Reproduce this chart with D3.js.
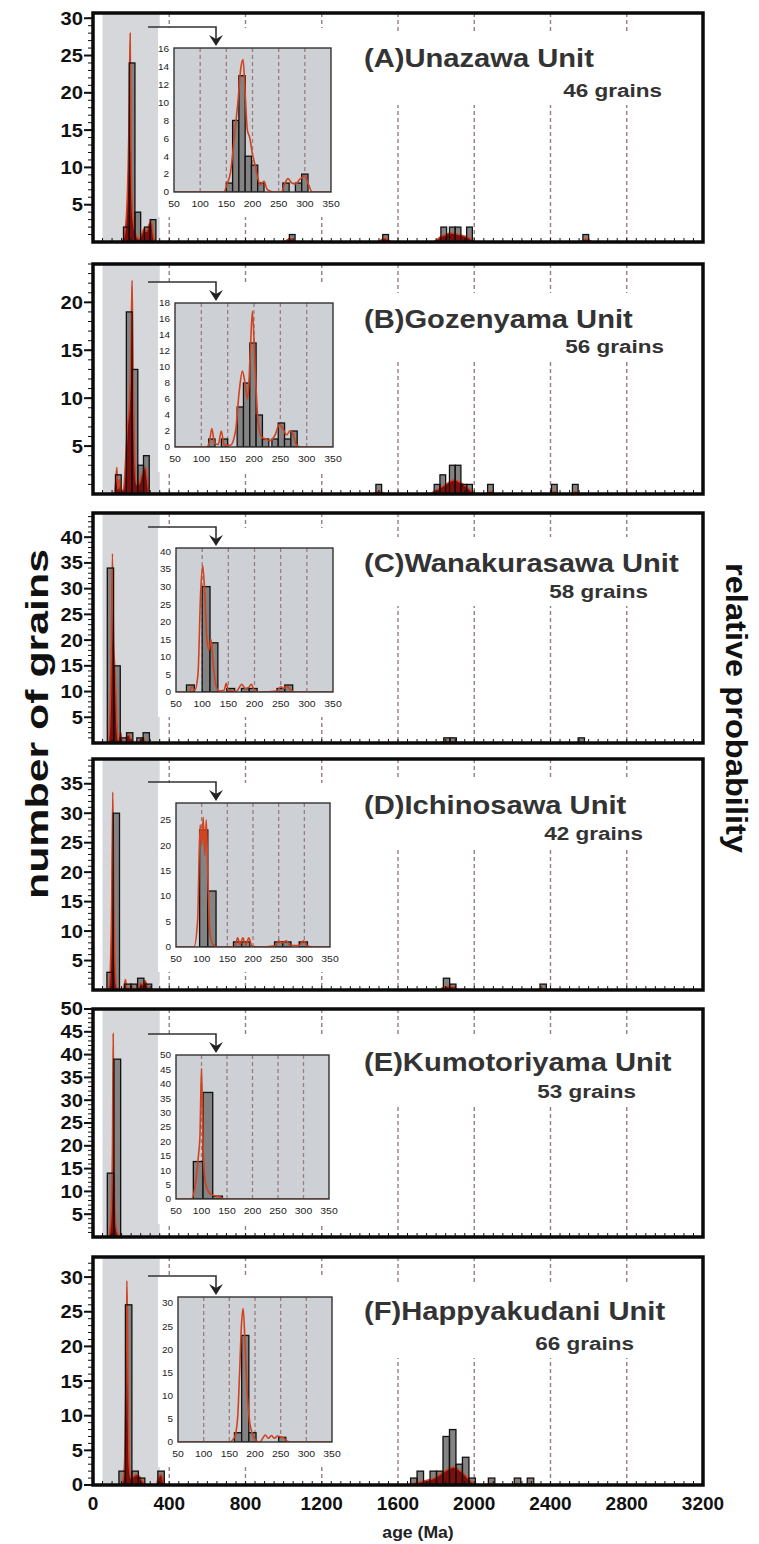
<!DOCTYPE html>
<html><head><meta charset="utf-8">
<script src="https://cdn.jsdelivr.net/npm/d3@7"></script>
<style>
body{margin:0;background:#fff}
svg{display:block}
text{font-family:"Liberation Sans",Arial,Helvetica,sans-serif}
</style></head>
<body><svg id="c" width="759" height="1544"></svg>
<script>
// ---------------- DATA ----------------
const titles = ["(A)Unazawa Unit","(B)Gozenyama Unit","(C)Wanakurasawa Unit","(D)Ichinosawa Unit","(E)Kumotoriyama Unit","(F)Happyakudani Unit"];
const grainLabels = ["46 grains","56 grains","58 grains","42 grains","53 grains","66 grains"];
const xTicks = [0,400,800,1200,1600,2000,2400,2800,3200];
const insetXTicks = [50,100,150,200,250,300,350];
const xAxisTitle = "age (Ma)";
const yTitleLeft = "number of grains";
const yTitleRight = "relative probability";

// main histogram bars: [bin start age (Ma), number of grains]
const mainBinWidth = [30,30,33,33,35,34];
const mainBarsA = [[160,2],[190,24],[220,4],[270,2],[300,3],[1030,1],[1520,1],[1825,2],[1870,2],[1900,2],[1960,2],[2570,1]];
const mainBarsB = [[118,2],[175,19],[205,13],[235,3],[265,4],[1484,1],[1790,1],[1820,2],[1870,3],[1900,3],[1930,1],[1960,1],[2070,1],[2405,1],[2515,1]];
const mainBarsC = [[75,34],[110,15],[143,1],[176,2],[230,1],[263,2],[1840,1],[1873,1],[2545,1]];
const mainBarsD = [[73,3],[106,30],[165,1],[198,1],[234,2],[275,1],[1838,2],[1871,1],[2345,1]];
const mainBarsE = [[75,14],[110,39]];
const mainBarsF = [[136,2],[170,26],[204,2],[238,1],[340,2],[1666,1],[1700,2],[1768,2],[1802,2],[1836,7],[1870,8],[1904,3],[1938,4],[1972,1],[2074,1],[2210,1],[2278,1]];

// main probability density curves: [age (Ma), value in count units]
const pdpMainA = [[100,0],[150,0],[165,1],[178,5],[188,15],[195,28],[200,12],[207,4],[215,2],[225,1],[240,0.4],[255,1],[268,1.8],[280,1.4],[295,2.4],[306,2.8],[318,0.6],[330,0],[1000,0],[1035,0.5],[1070,0],[1490,0],[1530,0.5],[1570,0],[1780,0],[1830,0.8],[1880,1.2],[1920,1],[1970,0.6],[2010,0],[2550,0],[2585,0.4],[2620,0]];
const pdpMainB = [[80,0],[110,0],[118,1],[125,2.8],[131,0.5],[138,1.5],[145,0.3],[160,0.5],[172,4],[180,7],[190,9],[198,14],[205,22.3],[211,12],[218,4],[228,1],[240,1],[255,2],[265,2.5],[275,2.8],[285,1.5],[295,0],[1460,0],[1500,0.3],[1540,0],[1760,0],[1800,0.4],[1850,1],[1895,1.5],[1935,1.1],[1975,0.5],[2010,0],[2060,0],[2085,0.3],[2110,0],[2395,0],[2420,0.25],[2445,0],[2505,0],[2530,0.25],[2555,0]];
const pdpMainC = [[50,0],[80,0],[88,4],[96,18],[102,36.8],[108,20],[114,15],[120,10],[126,3],[132,0.5],[140,1],[146,2],[152,0.3],[170,0.3],[178,1.5],[188,1.6],[196,1],[205,0.2],[240,0],[250,0.8],[260,1],[268,0.8],[278,0],[1810,0],[1845,0.3],[1875,0.3],[1905,0],[2530,0],[2550,0.2],[2570,0]];
const pdpMainD = [[50,0],[80,0],[90,3],[98,15],[104,33.6],[110,15],[117,3],[125,0.3],[160,0],[170,1.8],[178,0.3],[195,0.3],[202,1],[210,0],[238,0.3],[250,1.2],[262,0.9],[272,1.6],[282,1],[292,0.3],[300,0],[1810,0],[1850,0.6],[1885,0.6],[1920,0],[2330,0],[2355,0.3],[2380,0]];
const pdpMainE = [[50,0],[80,0],[90,2],[97,8],[102,20],[106,44.6],[110,20],[115,6],[122,2],[132,0.5],[145,0]];
const pdpMainF = [[100,0],[140,0],[155,0.5],[165,3],[172,14],[178,29.5],[184,14],[190,3],[198,1],[212,1.2],[228,1.5],[245,1.2],[262,0.5],[280,0],[330,0],[345,1.2],[358,1.5],[372,0.3],[390,0],[1640,0],[1690,0.3],[1740,0.6],[1790,1],[1830,1.7],[1870,2.4],[1890,2.6],[1920,2.2],[1950,1.5],[1980,0.6],[2010,0.1],[2040,0],[2065,0],[2085,0.25],[2110,0],[2195,0],[2220,0.25],[2245,0],[2265,0],[2290,0.25],[2315,0]];

// inset (50-350 Ma) histogram bars and curves
const insetBinWidth = [12,12,15,16,19,14];
const insetBarsA = [[150,1],[162,8],[174,13],[186,4],[198,3],[210,1],[258,1],[282,1],[294,2]];
const insetBarsB = [[114,1],[138,1],[168,5],[180,8],[192,13],[204,4],[216,1],[234,1],[246,3],[258,1],[270,2]];
const insetBarsC = [[70,2],[100,30],[115,14],[147,1],[175,1],[190,1],[243,1],[258,2]];
const insetBarsD = [[96,23],[112,11],[162,1],[178,1],[242,1],[258,1],[290,1]];
const insetBarsE = [[84,13],[103,37],[122,1]];
const insetBarsF = [[160,2],[174,23],[188,2],[246,1]];

const pdpInsetA = [[50,0],[145,0],[152,1],[158,2.2],[165,6],[172,10],[178,14],[182,14.8],[186,11],[190,7],[195,6],[200,4.2],[205,3],[210,1.6],[215,0.8],[222,1.2],[228,0.3],[240,0],[255,0],[262,1],[268,1.5],[275,1],[282,0.9],[290,1.4],[300,1.8],[306,1],[314,0],[350,0]];
const pdpInsetB = [[50,0],[110,0],[115,0.5],[120,2.3],[125,0.5],[132,0.3],[138,2],[143,0.3],[155,0.2],[165,2],[172,7],[178,9.5],[183,8],[188,6],[193,12],[197,17],[202,10],[208,3],[215,1.2],[222,1],[230,0.8],[240,1.5],[248,2.8],[255,2.3],[262,1.5],[268,2],[273,1.8],[280,0.3],[290,0],[350,0]];
const pdpInsetC = [[50,0],[75,0],[80,1.5],[86,0.5],[92,5],[97,28],[101,36],[105,28],[109,15],[113,12],[117,15],[121,8],[126,2],[132,0.3],[142,0.5],[146,2.5],[150,0.5],[165,0.2],[176,2.2],[182,1],[188,1.2],[194,2.2],[200,0.3],[210,0],[243,0.3],[250,1.5],[256,1],[262,1.6],[268,0.8],[278,0],[350,0]];
const pdpInsetD = [[50,0],[85,0],[92,5],[97,24],[100,20],[103,25.5],[106,18],[109,25],[112,14],[116,3],[122,0.5],[130,0],[165,0],[170,1.8],[175,0.5],[180,1.8],[186,0.4],[192,1.8],[198,0.2],[210,0],[245,0.3],[250,1.2],[256,0.8],[265,1.2],[272,0.3],[290,0.3],[298,1.2],[305,0.3],[315,0],[350,0]];
const pdpInsetE = [[50,0],[80,0],[86,3],[90,8],[94,15],[97,22],[100,45.4],[103,20],[106,8],[110,4],[116,2],[125,1.2],[135,0.8],[142,0.2],[150,0],[350,0]];
const pdpInsetF = [[50,0],[150,0],[160,1],[166,5],[170,15],[174,26],[177,28.8],[181,20],[185,10],[190,4],[196,1.5],[202,0.3],[210,0],[215,0.8],[220,1.5],[226,0.8],[232,1.4],[238,0.8],[244,1.3],[250,1.1],[256,0.9],[262,0.2],[270,0],[350,0]];

// axis extents
const yMax = [30.7,24,44.7,39.2,50,32.9];
const yTickTop = [30,20,40,35,50,30];
const insetYMax = [16.1,18,41,28.3,50,31.3];
const insetYStep = [2,2,5,5,5,5];

const mainBars = [mainBarsA,mainBarsB,mainBarsC,mainBarsD,mainBarsE,mainBarsF];
const mainPdp = [pdpMainA,pdpMainB,pdpMainC,pdpMainD,pdpMainE,pdpMainF];
const insetBars = [insetBarsA,insetBarsB,insetBarsC,insetBarsD,insetBarsE,insetBarsF];
const insetPdp = [pdpInsetA,pdpInsetB,pdpInsetC,pdpInsetD,pdpInsetE,pdpInsetF];

// ---------------- LAYOUT ----------------
const panelTop = [13,264,513,759,1009,1257];
const panelBottom = [242,494,743,990,1237,1485];
const insetLeft = [174,175,176,176,176,178];
const insetRight = [331,333,333,330,329,332];
const insetTop = [48,303,548,803,1055,1297];
const insetBottom = [192,447,692,947,1199,1442];
const titleY = [57,318,562,804,1061,1310];
const grainsY = [91,347,592,834,1092,1344];
const grainsRight = [662,664,648,643,636,634];

const C = {
  band:"#d5d7da", insetBg:"#cdd0d4", grid:"#9c7c7c", bar:"#838383",
  pdpFill:"#7e0d0d", pdpLine:"#d3421f", text:"#333"
};

const svg = d3.select("#c");
const x = d3.scaleLinear().domain([0,3200]).range([93,703]);

for (let i=0;i<6;i++){
  const top = panelTop[i], bot = panelBottom[i];
  const y = d3.scaleLinear().domain([0,yMax[i]]).range([bot,top]);
  const g = svg.append("g");
  const bw = mainBinWidth[i];

  // gray band 50-350 Ma
  g.append("rect").attr("x",x(50)).attr("y",top).attr("width",x(350)-x(50)).attr("height",bot-top).attr("fill",C.band);

  // dashed grid lines
  g.selectAll("line.grid").data(xTicks.filter(t=>t>0&&t<3200)).join("line")
    .attr("x1",d=>x(d)).attr("x2",d=>x(d)).attr("y1",top).attr("y2",bot)
    .attr("stroke",C.grid).attr("stroke-width",1.4).attr("stroke-dasharray","4,3");

  // white boxes behind inset and title
  g.append("rect").attr("x",158).attr("y",insetTop[i]-20).attr("width",350-158).attr("height",insetBottom[i]-insetTop[i]+45).attr("fill","#fff");
  g.append("rect").attr("x",345).attr("y",titleY[i]-25).attr("width",700-345).attr("height",grainsY[i]-titleY[i]+39).attr("fill","#fff");

  // bar fills
  const bars = mainBars[i];
  g.selectAll("rect.bf").data(bars).join("rect")
    .attr("x",d=>x(d[0])).attr("width",d=>x(d[0]+bw)-x(d[0]))
    .attr("y",d=>y(d[1])).attr("height",d=>y(0)-y(d[1]))
    .attr("fill",C.bar);

  // PDP filled
  const area = d3.area().x(d=>x(d[0])).y0(y(0)).y1(d=>y(d[1])).curve(d3.curveMonotoneX);
  const line = d3.line().x(d=>x(d[0])).y(d=>y(d[1])).curve(d3.curveMonotoneX);
  g.append("path").datum(mainPdp[i]).attr("d",area).attr("fill",C.pdpFill);
  g.append("path").datum(mainPdp[i]).attr("d",line).attr("fill","none").attr("stroke",C.pdpLine).attr("stroke-width",1.5);

  // bar outlines
  g.selectAll("rect.bo").data(bars).join("rect")
    .attr("x",d=>x(d[0])).attr("width",d=>x(d[0]+bw)-x(d[0]))
    .attr("y",d=>y(d[1])).attr("height",d=>y(0)-y(d[1]))
    .attr("fill","none").attr("stroke","#111").attr("stroke-width",1.3);

  // bottom minor ticks (inside)
  g.selectAll("line.bt").data(d3.range(50,3200,50)).join("line")
    .attr("x1",d=>x(d)).attr("x2",d=>x(d)).attr("y1",bot).attr("y2",bot-4)
    .attr("stroke","#111").attr("stroke-width",1);

  // left axis ticks
  const minor = d3.range(1,Math.floor(yMax[i])+1);
  g.selectAll("line.mt").data(minor).join("line")
    .attr("x1",88).attr("x2",93).attr("y1",d=>y(d)).attr("y2",d=>y(d))
    .attr("stroke","#111").attr("stroke-width",1);
  const major = d3.range(i===5?0:5, yTickTop[i]+1, 5);
  g.selectAll("line.Mt").data(major).join("line")
    .attr("x1",84).attr("x2",93).attr("y1",d=>y(d)).attr("y2",d=>y(d))
    .attr("stroke","#111").attr("stroke-width",2);
  g.selectAll("text.yl").data(major).join("text")
    .attr("transform",d=>`translate(83,${y(d)}) scale(1.12,1)`)
    .attr("text-anchor","end").attr("dy","0.36em")
    .attr("font-size",18).attr("font-weight","bold").attr("fill","#111")
    .text(d=>d);

  // frame
  g.append("rect").attr("x",x(0)).attr("y",top).attr("width",x(3200)-x(0)).attr("height",bot-top)
    .attr("fill","none").attr("stroke","#0a0a0a").attr("stroke-width",3.5);

  // arrow
  const ay = insetTop[i]-21;
  g.append("path").attr("d",`M148,${ay}H216V${insetTop[i]-8}`).attr("fill","none").attr("stroke","#333").attr("stroke-width",1.6);
  g.append("path").attr("d",`M209,${insetTop[i]-13}L216,${insetTop[i]-9}L223,${insetTop[i]-13}L216,${insetTop[i]-2}Z`).attr("fill","#222");

  // ---- inset ----
  const xi = d3.scaleLinear().domain([50,350]).range([insetLeft[i],insetRight[i]]);
  const yi = d3.scaleLinear().domain([0,insetYMax[i]]).range([insetBottom[i],insetTop[i]]);
  const ib = insetBinWidth[i];
  const gi = svg.append("g");
  const clipId = "clip"+i;
  gi.append("clipPath").attr("id",clipId).append("rect")
    .attr("x",insetLeft[i]).attr("y",insetTop[i]-1).attr("width",insetRight[i]-insetLeft[i]).attr("height",insetBottom[i]-insetTop[i]+1);
  gi.append("rect").attr("x",insetLeft[i]).attr("y",insetTop[i]).attr("width",insetRight[i]-insetLeft[i]).attr("height",insetBottom[i]-insetTop[i]).attr("fill",C.insetBg);
  gi.selectAll("line.ig").data([100,150,200,250,300]).join("line")
    .attr("x1",d=>xi(d)).attr("x2",d=>xi(d)).attr("y1",insetTop[i]).attr("y2",insetBottom[i])
    .attr("stroke",C.grid).attr("stroke-width",1.3).attr("stroke-dasharray","4,3");
  const gc = gi.append("g").attr("clip-path",`url(#${clipId})`);
  gc.selectAll("rect.ib").data(insetBars[i]).join("rect")
    .attr("x",d=>xi(d[0])).attr("width",d=>xi(d[0]+ib)-xi(d[0]))
    .attr("y",d=>yi(d[1])).attr("height",d=>yi(0)-yi(d[1]))
    .attr("fill",C.bar).attr("stroke","#111").attr("stroke-width",1.3);
  const iline = d3.line().x(d=>xi(d[0])).y(d=>yi(d[1])).curve(d3.curveMonotoneX);
  gc.append("path").datum(insetPdp[i]).attr("d",iline).attr("fill","none").attr("stroke",C.pdpLine).attr("stroke-width",1.6);
  gi.append("rect").attr("x",insetLeft[i]).attr("y",insetTop[i]).attr("width",insetRight[i]-insetLeft[i]).attr("height",insetBottom[i]-insetTop[i])
    .attr("fill","none").attr("stroke","#333").attr("stroke-width",1.4);
  const iyt = d3.range(0, insetYMax[i]+0.001, insetYStep[i]).filter(v=>v<=insetYMax[i]);
  gi.selectAll("text.iy").data(iyt).join("text")
    .attr("transform",d=>`translate(${insetLeft[i]-5},${yi(d)}) scale(1.05,1)`)
    .attr("text-anchor","end").attr("dy","0.35em").attr("font-size",9.5).attr("fill","#222")
    .text(d=>d);
  gi.selectAll("text.ix").data(insetXTicks).join("text")
    .attr("transform",d=>`translate(${xi(d)},${insetBottom[i]+12}) scale(1.1,1)`)
    .attr("text-anchor","middle").attr("dy","0.35em").attr("font-size",9.5).attr("fill","#222")
    .text(d=>d);

  // titles
  svg.append("text").attr("transform",`translate(364,${titleY[i]}) scale(1.1,1)`)
    .attr("dy","0.36em").attr("font-size",26.5).attr("font-weight","bold").attr("fill",C.text)
    .text(titles[i]);
  svg.append("text").attr("transform",`translate(${grainsRight[i]},${grainsY[i]}) scale(1.25,1)`)
    .attr("text-anchor","end").attr("dy","0.36em").attr("font-size",18).attr("font-weight","bold").attr("fill",C.text)
    .text(grainLabels[i]);

  // x axis labels on last panel
  if (i===5){
    svg.selectAll("text.xl").data(xTicks).join("text")
      .attr("x",d=>x(d)).attr("y",1503).attr("dy","0.36em")
      .attr("text-anchor","middle").attr("font-size",19).attr("font-weight","bold").attr("fill","#111")
      .text(d=>d);
  }
}

svg.append("text").attr("transform","translate(418,1532) scale(1.1,1)")
  .attr("text-anchor","middle").attr("dy","0.36em").attr("font-size",16).attr("font-weight","bold").attr("fill","#222")
  .text(xAxisTitle);
svg.append("text").attr("transform","translate(37,724) rotate(-90)")
  .attr("text-anchor","middle").attr("dy","0.36em").attr("font-size",31).attr("font-weight","bold").attr("fill","#111")
  .attr("textLength",350).attr("lengthAdjust","spacingAndGlyphs")
  .text(yTitleLeft);
svg.append("text").attr("transform","translate(737,708) rotate(90)")
  .attr("text-anchor","middle").attr("dy","0.36em").attr("font-size",30).attr("font-weight","bold").attr("fill","#111")
  .attr("textLength",290).attr("lengthAdjust","spacingAndGlyphs")
  .text(yTitleRight);
</script></body></html>
